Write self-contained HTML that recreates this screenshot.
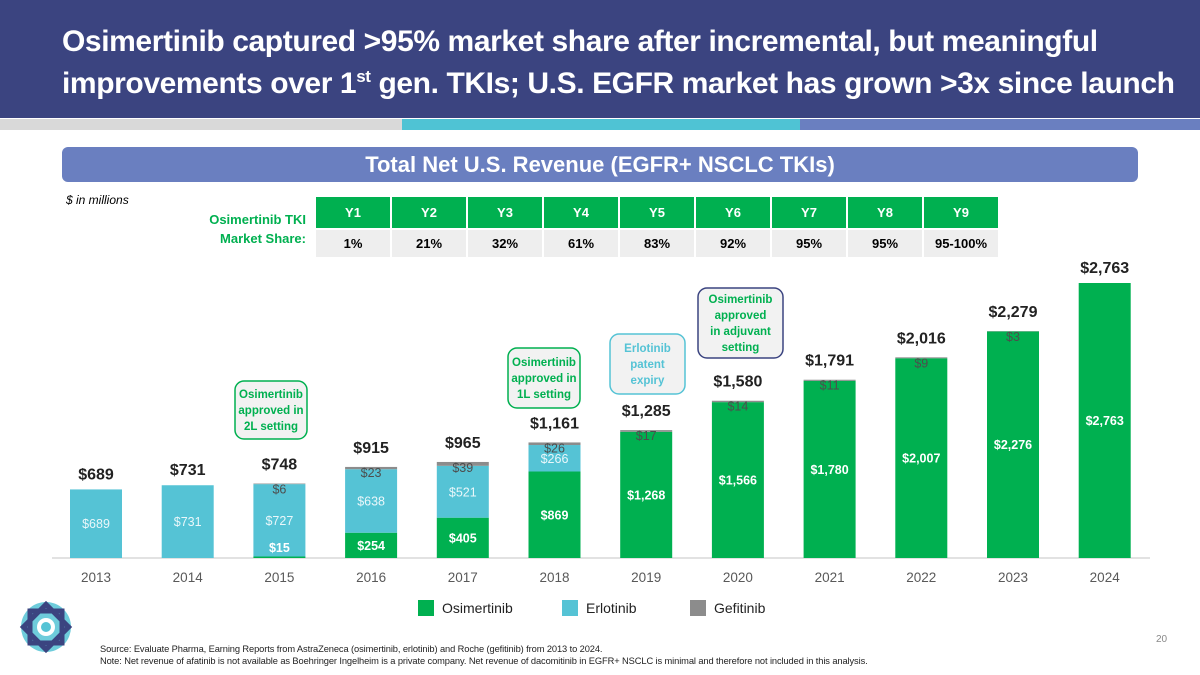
<!DOCTYPE html>
<html><head><meta charset="utf-8"><style>
body{margin:0;width:1200px;height:675px;overflow:hidden;background:#fff;font-family:"Liberation Sans Narrow","Liberation Sans",sans-serif;position:relative}
.abs{position:absolute}
.title{left:62px;top:24px;color:#fff;font-weight:bold;font-size:30px;line-height:35px;letter-spacing:-0.4px}
table{border-collapse:separate;border-spacing:2px 0}
</style></head><body>
<div class="abs" style="left:0;top:0;width:1200px;height:118px;background:#3b4480"></div>
<div class="abs title">Osimertinib captured &gt;95% market share after incremental, but meaningful<br>improvements over 1<sup style="font-size:17px">st</sup> gen. TKIs; U.S. EGFR market has grown &gt;3x since launch</div>
<div class="abs" style="left:0;top:119px;width:402px;height:11px;background:#d9d9d9"></div>
<div class="abs" style="left:402px;top:119px;width:398px;height:11px;background:#4fc3d4"></div>
<div class="abs" style="left:800px;top:119px;width:400px;height:11px;background:#6a7fc0"></div>
<div class="abs" style="left:62px;top:147px;width:1076px;height:35px;background:#6a7fc0;border-radius:6px;color:#fff;font-weight:bold;font-size:22px;line-height:35px;text-align:center">Total Net U.S. Revenue (EGFR+ NSCLC TKIs)</div>
<div class="abs" style="left:66px;top:193px;font-size:12px;font-style:italic">$ in millions</div>
<div class="abs" style="left:196px;top:210px;width:110px;text-align:right;color:#00b050;font-weight:bold;font-size:13px;line-height:19px">Osimertinib TKI<br>Market Share:</div>
<table class="abs" style="left:314px;top:197px">
<tr id="hdr"></tr><tr id="val"></tr></table>
<svg class="abs" style="left:0;top:0" width="1200" height="675" id="chart"></svg>
<div class="abs" style="left:1156px;top:634px;font-size:10px;color:#888">20</div>
<div class="abs" style="left:100px;top:643px;font-size:9.3px;line-height:12px;color:#222;letter-spacing:-0.1px">Source: Evaluate Pharma, Earning Reports from AstraZeneca (osimertinib, erlotinib) and Roche (gefitinib) from 2013 to 2024.<br>Note: Net revenue of afatinib is not available as Boehringer Ingelheim is a private company. Net revenue of dacomitinib in EGFR+ NSCLC is minimal and therefore not included in this analysis.</div>
<script>
const years=['Y1','Y2','Y3','Y4','Y5','Y6','Y7','Y8','Y9'];
const shares=['1%','21%','32%','61%','83%','92%','95%','95%','95-100%'];
const hdr=document.getElementById('hdr'),val=document.getElementById('val');
years.forEach((y,i)=>{const td=document.createElement('td');td.textContent=y;


td.style.cssText='width:74px;height:31px;background:#00b050;color:#fff;font-weight:bold;font-size:13px;text-align:center;padding:0';hdr.appendChild(td);
const t2=document.createElement('td');t2.textContent=shares[i];


t2.style.cssText='height:27px;background:#eeeeee;color:#000;font-weight:bold;font-size:13px;text-align:center;padding:0;border-top:2px solid #fff';val.appendChild(t2);});

const cats=['2013','2014','2015','2016','2017','2018','2019','2020','2021','2022','2023','2024'];
const osi=[0,0,15,254,405,869,1268,1566,1780,2007,2276,2763];
const erl=[689,731,727,638,521,266,0,0,0,0,0,0];
const gef=[0,0,6,23,39,26,17,14,11,9,3,0];
const totals=['$689','$731','$748','$915','$965','$1,161','$1,285','$1,580','$1,791','$2,016','$2,279','$2,763'];
const svg=document.getElementById('chart'),NS='http://www.w3.org/2000/svg';
const base=558,k=275/2763,x0=96,dx=91.7,bw=52;
const X=i=>x0+i*dx, Y=v=>base-v*k;
function el(t,a,txt){const e=document.createElementNS(NS,t);for(const n in a)e.setAttribute(n,a[n]);if(txt!=null)e.textContent=txt;svg.appendChild(e);return e;}
const ax=el('line',{x1:52,x2:1150,y1:base,y2:base,stroke:'#d9d9d9','stroke-width':1.5});


const F='"Liberation Sans Narrow","Liberation Sans",sans-serif';
cats.forEach((c,i)=>{
 const cx=X(i);let acc=0;
 const segs=[[osi[i],'#00b050','osimertinib'],[erl[i],'#55c3d5','erlotinib'],[gef[i],'#8c8c8c','gefitinib']];
 segs.forEach(([v,col,nm])=>{if(!v)return;const r=el('rect',{x:cx-bw/2,y:Y(acc+v),width:bw,height:v*k,fill:col});
  
  acc+=v;});
 const top=Y(acc);
 if(osi[i]){const ly=Math.min(Y(osi[i]/2)+4.5,base-6);const t=el('text',{x:cx,y:ly,'text-anchor':'middle',fill:'#fff','font-weight':'bold','font-size':12.5,'font-family':F},'$'+osi[i].toLocaleString('en-US'));
  
  }
 if(erl[i]){const t=el('text',{x:cx,y:Y(osi[i]+erl[i]/2)+4.5,'text-anchor':'middle',fill:'#eaf7fa','font-size':12.5,'font-family':F},'$'+erl[i]);
  
  }
 if(gef[i]){const t=el('text',{x:cx,y:top+10,'text-anchor':'middle',fill:'#4d4d4d','font-size':12.5,'font-family':F},'$'+gef[i]);
  
  }
 const tt=el('text',{x:cx,y:top-(gef[i]?14:10),'text-anchor':'middle',fill:'#222','font-weight':'bold','font-size':16,'font-family':F},totals[i]);
 
 
 const xl=el('text',{x:cx,y:582,'text-anchor':'middle',fill:'#595959','font-size':13.5,'font-family':F},c);
 
 
});
function callout(name,x,y,w,h,stroke,col,lines){const g=el('g',{});
 const r=el('rect',{x:x,y:y,width:w,height:h,rx:9,fill:'#f2f2f2',stroke:stroke,'stroke-width':1.5});g.appendChild(r);
 const lh=16,sy=y+h/2-(lines.length-1)*lh/2+4;
 lines.forEach((l,j)=>{const t=el('text',{x:x+w/2,y:sy+j*lh,'text-anchor':'middle',fill:col,'font-weight':'bold','font-size':11.5,'font-family':F},l);g.appendChild(t);});}
callout('callout-2l',235,381,72,58,'#00b050','#00b050',['Osimertinib','approved in','2L setting']);
callout('callout-1l',508,348,72,60,'#00b050','#00b050',['Osimertinib','approved in','1L setting']);
callout('callout-erlotinib-expiry',610,334,75,60,'#55c3d5','#55c3d5',['Erlotinib','patent','expiry']);
callout('callout-adjuvant',698,288,85,70,'#3b4480','#00b050',['Osimertinib','approved','in adjuvant','setting']);
[['Osimertinib','#00b050',418],['Erlotinib','#55c3d5',562],['Gefitinib','#8c8c8c',690]].forEach(([n,c,x])=>{
 const r=el('rect',{x:x,y:600,width:16,height:16,fill:c});
 const t=el('text',{x:x+24,y:613,fill:'#222','font-size':14,'font-family':F},n);});
const lg=el('g',{transform:'translate(46,627)'});
lg.appendChild(el('circle',{r:25,fill:'#55c3d5',opacity:0.85}));
lg.appendChild(el('rect',{x:-16,y:-16,width:32,height:32,fill:'none',stroke:'#3b4480','stroke-width':5}));
lg.appendChild(el('rect',{x:-16,y:-16,width:32,height:32,fill:'none',stroke:'#3b4480','stroke-width':5,transform:'rotate(45)'}));
lg.appendChild(el('circle',{r:9,fill:'#fff'}));lg.appendChild(el('circle',{r:5,fill:'#55c3d5'}));
</script>
</body></html>
